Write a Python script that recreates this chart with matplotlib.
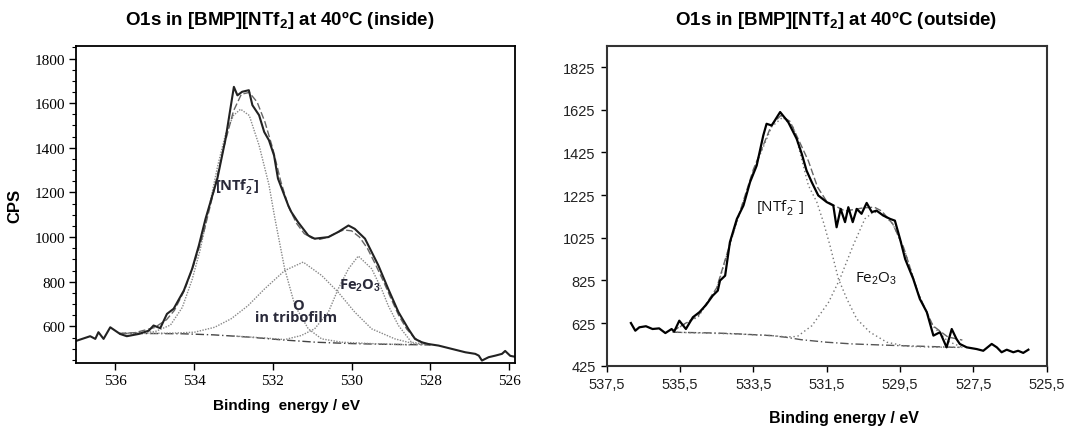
import matplotlib
matplotlib.use("Agg")
import matplotlib.pyplot as plt
from matplotlib.ticker import MultipleLocator, FixedLocator, FuncFormatter

plt.rcParams['mathtext.fontset'] = 'custom'
plt.rcParams['mathtext.rm'] = 'Liberation Sans'
plt.rcParams['mathtext.bf'] = 'Liberation Sans:bold'

# ---------------- Left panel (inside) ----------------
in_exp_x = [536.98, 536.64, 536.51, 536.43, 536.30, 536.13, 535.88, 535.71, 535.41, 535.15,
            535.03, 534.86, 534.69, 534.52, 534.26, 534.05, 533.88, 533.71, 533.41, 533.20,
            532.99, 532.90, 532.78, 532.61, 532.52, 532.35, 532.22, 532.10, 531.97, 531.87,
            531.61, 531.53, 531.36, 531.10, 530.94, 530.59, 530.34, 530.08, 529.92, 529.66,
            529.49, 529.32, 529.07, 528.81, 528.56, 528.39, 528.22, 528.05, 527.79, 527.45,
            527.11, 526.86, 526.77, 526.69, 526.52, 526.35, 526.18, 526.10, 525.97, 525.82]
in_exp_y = [536, 556, 544, 574, 544, 596, 566, 556, 566, 581,
            604, 592, 656, 679, 761, 858, 962, 1082, 1262, 1441,
            1673, 1635, 1651, 1658, 1591, 1546, 1471, 1434, 1366, 1262,
            1142, 1112, 1067, 1007, 993, 1000, 1023, 1052, 1037, 993,
            933, 873, 768, 664, 589, 544, 529, 521, 514, 499,
            484, 477, 469, 447, 462, 469, 477, 490, 468, 463]

in_fit_x = [535.9, 535.5, 535.0, 534.7, 534.5, 534.25, 534.0, 533.75, 533.5, 533.25, 533.0,
            532.8, 532.6, 532.4, 532.2, 532.0, 531.8, 531.6, 531.4, 531.2, 531.0, 530.8,
            530.6, 530.4, 530.2, 530.0, 529.8, 529.6, 529.4, 529.2, 529.0, 528.8, 528.6,
            528.4, 528.2, 528.0]
in_fit_y = [568, 572, 595, 630, 672, 760, 880, 1025, 1205, 1400, 1565,
            1640, 1648, 1605, 1515, 1395, 1250, 1135, 1062, 1015, 995, 990,
            1000, 1018, 1032, 1028, 1000, 950, 880, 805, 725, 648, 588,
            548, 527, 518]

in_ntf_x = [535.9, 535.0, 534.6, 534.3, 534.05, 533.85, 533.6, 533.4, 533.2, 533.0, 532.82,
            532.6, 532.35, 532.1, 531.95, 531.7, 531.44, 531.1, 530.76, 530.25, 529.5, 528.5]
in_ntf_y = [568, 576, 606, 685, 810, 940, 1150, 1320, 1462, 1545, 1573,
            1545, 1411, 1235, 1085, 858, 693, 589, 544, 529, 523, 517]

in_otr_x = [535.9, 535.0, 534.5, 533.99, 533.48, 533.06, 532.63, 532.21, 531.70, 531.23,
            530.76, 530.34, 529.92, 529.49, 528.90, 528.39, 528.0]
in_otr_y = [568, 569, 570, 574, 596, 634, 693, 768, 850, 888,
            828, 753, 664, 589, 544, 521, 517]

in_fe_x = [533.0, 532.2, 531.7, 531.28, 530.94, 530.59, 530.34, 530.08, 529.83, 529.49,
           529.24, 529.07, 528.81, 528.48, 528.0]
in_fe_y = [557, 548, 541, 559, 589, 664, 768, 858, 915, 858,
           768, 693, 604, 529, 517]

in_bg_x = [535.9, 535.0, 534.3, 533.5, 532.6, 531.8, 530.9, 530.0, 529.2, 528.4, 528.0]
in_bg_y = [568, 568, 567, 562, 552, 540, 529, 523, 520, 518, 517]

# ---------------- Right panel (outside) ----------------
out_exp_x = [536.84, 536.72, 536.61, 536.43, 536.25, 536.07, 535.90, 535.73, 535.66, 535.52,
             535.34, 535.15, 534.97, 534.79, 534.61, 534.47, 534.41, 534.27, 534.14, 533.95,
             533.77, 533.59, 533.41, 533.23, 533.14, 533.00, 532.77, 532.55, 532.32, 532.18,
             532.05, 531.91, 531.73, 531.50, 531.32, 531.23, 531.12, 531.00, 530.91, 530.79,
             530.68, 530.55, 530.41, 530.27, 530.14, 529.96, 529.77, 529.64, 529.50, 529.36,
             529.14, 528.96, 528.77, 528.59, 528.41, 528.23, 528.09, 527.96, 527.87, 527.68,
             527.41, 527.23, 527.00, 526.86, 526.73, 526.59, 526.41, 526.28, 526.14, 526.00]
out_exp_y = [625, 589, 605, 610, 597, 600, 578, 597, 585, 636,
             597, 652, 676, 710, 753, 777, 824, 847, 1004, 1113,
             1176, 1286, 1363, 1504, 1559, 1551, 1614, 1567, 1489, 1418,
             1340, 1286, 1223, 1192, 1176, 1074, 1160, 1098, 1168, 1098,
             1160, 1137, 1188, 1145, 1152, 1129, 1113, 1105, 1019, 925,
             832, 738, 676, 566, 582, 511, 597, 550, 527, 511,
             503, 495, 527, 511, 488, 500, 488, 495, 485, 500]

out_fit_x = [535.7, 535.0, 534.5, 534.0, 533.5, 533.0, 532.75, 532.5, 532.0, 531.75, 531.5,
             531.0, 530.5, 530.2, 530.0, 529.7, 529.4, 529.0, 528.6, 528.2, 527.8]
out_fit_y = [588, 660, 790, 1075, 1345, 1555, 1598, 1570, 1385, 1262, 1195,
             1150, 1165, 1168, 1150, 1090, 978, 762, 612, 560, 545]

out_ntf_x = [535.7, 535.0, 534.5, 534.0, 533.5, 533.0, 532.7, 532.4, 532.0, 531.77, 531.59,
             531.41, 531.18, 530.95, 530.68, 530.32, 529.86, 529.32, 528.6, 527.8]
out_ntf_y = [588, 655, 785, 1072, 1338, 1545, 1590, 1540, 1270, 1192, 1098,
             988, 832, 738, 644, 582, 535, 516, 512, 511]

out_fe_x = [535.7, 534.0, 533.0, 532.6, 532.3, 531.9, 531.45, 531.14, 530.78, 530.46, 530.23,
            530.0, 529.7, 529.4, 529.0, 528.6, 528.2, 527.8]
out_fe_y = [582, 574, 566, 560, 562, 613, 722, 832, 988, 1113, 1145,
            1140, 1090, 978, 762, 610, 540, 511]

out_bg_x = [535.7, 534.5, 533.9, 533.0, 532.6, 532.2, 531.5, 530.8, 530.0, 529.5, 528.7, 528.0, 527.8]
out_bg_y = [582, 578, 574, 566, 558, 547, 535, 527, 522, 519, 515, 511, 511]

in_title = r"O1s in [BMP][NTf$_\mathbf{2}$] at 40ºC (inside)"
out_title = r"O1s in [BMP][NTf$_\mathbf{2}$] at 40ºC (outside)"

W, H = 1081, 439
fig = plt.figure(figsize=(W / 100, H / 100), dpi=100)

# ---------- left ----------
axL = fig.add_axes([76 / W, 1 - 364 / H, 439 / W, 317 / H])
axL.plot(in_bg_x, in_bg_y, color='#444444', lw=1.0, ls=(0, (6, 2, 1, 2)))
axL.plot(in_ntf_x, in_ntf_y, color='#888888', lw=1.0, ls=(0, (1, 1)))
axL.plot(in_otr_x, in_otr_y, color='#888888', lw=1.0, ls=(0, (1, 1)))
axL.plot(in_fe_x, in_fe_y, color='#888888', lw=1.0, ls=(0, (1, 1)))
axL.plot(in_fit_x, in_fit_y, color='#666666', lw=1.0, ls=(0, (5, 2)))
axL.plot(in_exp_x, in_exp_y, color='#222222', lw=1.5)
axL.set_xlim(537.0, 525.85)
axL.set_ylim(436, 1856)
axL.xaxis.set_major_locator(FixedLocator([536, 534, 532, 530, 528, 526]))
axL.yaxis.set_major_locator(FixedLocator([600, 800, 1000, 1200, 1400, 1600, 1800]))
axL.yaxis.set_minor_locator(MultipleLocator(50))
axL.tick_params(axis='both', which='major', direction='out', length=5, width=1,
                labelsize=11, pad=3)
axL.tick_params(axis='y', which='minor', direction='out', length=3, width=0.8)
for lab in axL.get_xticklabels() + axL.get_yticklabels():
    lab.set_fontfamily('Liberation Serif')
for s in axL.spines.values():
    s.set_linewidth(1.3)
axL.set_ylabel('CPS', fontsize=12, fontweight='bold', family='Liberation Sans')
axL.yaxis.set_label_coords(-0.123, 0.5)
axL.set_xlabel('Binding  energy / eV', fontsize=11, fontweight='bold', family='Liberation Sans')
axL.xaxis.set_label_coords(0.48, -0.11)
ann_font = dict(family='Open Sans', fontsize=10.5, fontweight='bold', color='#2a2a3a')
axL.text(532.9, 1226, r"[NTf$_\mathbf{2}^{\,\mathbf{-}}$]", ha='center', va='center', **ann_font)
axL.text(531.36, 696, "O", ha='center', va='center', **ann_font)
axL.text(531.40, 641, "in tribofilm", ha='center', va='center', **ann_font)
axL.text(529.79, 786, r"Fe$_\mathbf{2}$O$_\mathbf{3}$", ha='center', va='center', **ann_font)

# ---------- right ----------
axR = fig.add_axes([606.7 / W, 1 - 366.7 / H, 440 / W, 320 / H])
axR.plot(out_bg_x, out_bg_y, color='#555555', lw=1.0, ls=(0, (6, 2, 1, 2)))
axR.plot(out_ntf_x, out_ntf_y, color='#777777', lw=1.0, ls=(0, (1, 2)))
axR.plot(out_fe_x, out_fe_y, color='#777777', lw=1.0, ls=(0, (1, 2)))
axR.plot(out_fit_x, out_fit_y, color='#666666', lw=1.0, ls=(0, (5, 2)))
axR.plot(out_exp_x, out_exp_y, color='black', lw=1.6)
axR.set_xlim(537.5, 525.5)
axR.set_ylim(425, 1925)
axR.xaxis.set_major_locator(FixedLocator([537.5, 535.5, 533.5, 531.5, 529.5, 527.5, 525.5]))
axR.yaxis.set_major_locator(FixedLocator([425, 625, 825, 1025, 1225, 1425, 1625, 1825]))
axR.xaxis.set_major_formatter(FuncFormatter(lambda v, p: f"{v:.1f}".replace('.', ',')))
axR.tick_params(axis='both', which='major', direction='out', length=4, width=1,
                labelsize=10.5, pad=4, labelcolor='#222222')
for lab in axR.get_xticklabels() + axR.get_yticklabels():
    lab.set_fontfamily('Liberation Sans')
for s in axR.spines.values():
    s.set_linewidth(1.5)
    s.set_color('#333333')
axR.set_xlabel('Binding energy / eV', fontsize=11.5, fontweight='bold', family='Liberation Sans')
axR.xaxis.set_label_coords(0.54, -0.14)
ann_font2 = dict(family='Open Sans', fontsize=11, color='#111111')
axR.text(532.77, 1168, r"[NTf$_2^{\,-}$]", ha='center', va='center', **ann_font2)
axR.text(530.14, 840, r"Fe$_2$O$_3$", ha='center', va='center', **ann_font2)

fig.text(280 / W, 1 - 20 / H, in_title, ha='center', va='center', fontsize=13.5,
         fontweight='bold', family='Liberation Sans')
fig.text(836 / W, 1 - 20 / H, out_title, ha='center', va='center', fontsize=13.5,
         fontweight='bold', family='Liberation Sans')

fig.savefig('out.png', dpi=100)
